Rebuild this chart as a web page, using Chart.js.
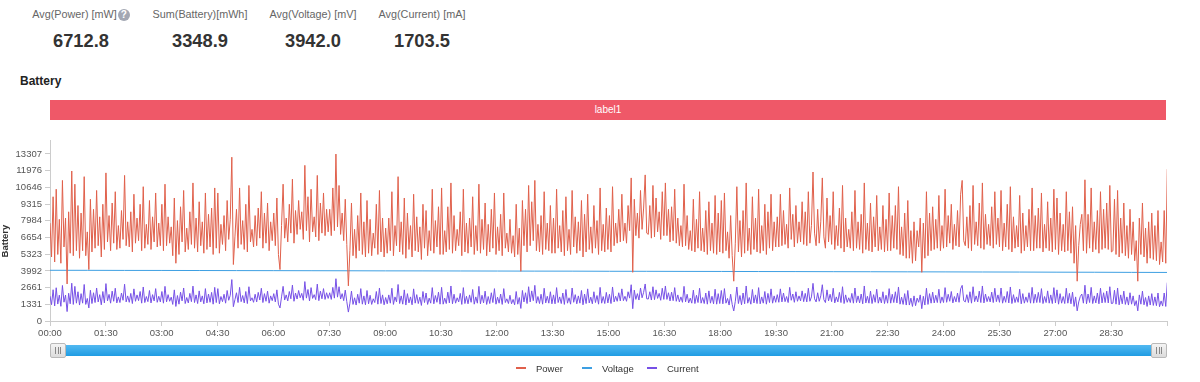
<!DOCTYPE html>
<html>
<head>
<meta charset="utf-8">
<script src="https://cdn.jsdelivr.net/npm/chart.js@4/dist/chart.umd.min.js"></script>
<style>
  html, body { margin: 0; padding: 0; background: #fff; }
  body { width: 1200px; height: 382px; position: relative; overflow: hidden; font-family: "Liberation Sans", Arial, Helvetica, sans-serif; }
  .stat { position: absolute; width: 140px; text-align: center; }
  .stat .lbl { position: absolute; top: 7px; left: 0; width: 140px; font-size: 10.8px; line-height: 14px; color: #666; white-space: nowrap; }
  .stat .val { position: absolute; top: 30px; left: 0; width: 140px; font-size: 18.3px; line-height: 22px; font-weight: bold; color: #333; }
  .q { display: inline-block; width: 12px; height: 12px; border-radius: 50%; background: #a3a7b3; color: #fff; font-size: 10px; line-height: 12px; font-weight: bold; text-align: center; vertical-align: 0px; margin-left: 1px; }
  #title { position: absolute; left: 20px; top: 74px; font-size: 12px; line-height: 14px; font-weight: bold; color: #222; }
  #band { position: absolute; left: 50px; top: 100px; width: 1116px; height: 20px; background: #ef5868; color: #fff; font-size: 10px; line-height: 20px; text-align: center; }
  #chartWrap { position: absolute; left: 0; top: 130px; width: 1200px; height: 252px; }
  #slider { position: absolute; left: 50px; top: 345px; width: 1117px; height: 11px; background: linear-gradient(#52b9f1, #1f9ce3); }
  .handle { position: absolute; top: 343px; width: 14px; height: 13px; background: linear-gradient(#f4f4f4, #dcdcdc); border: 1px solid #b9b9b9; border-radius: 2px; box-sizing: content-box; }
  .handle span { position: absolute; left: 4px; top: 3px; width: 6px; height: 7px; border-left: 1px solid #888; border-right: 1px solid #888; box-sizing: border-box; }
  .handle span::after { content: ""; position: absolute; left: 1.5px; top: 0; width: 1px; height: 7px; background: #888; }
  #legend { position: absolute; top: 362px; left: 0; width: 1200px; height: 14px; font-size: 9.5px; color: #333; }
  .li { position: absolute; top: 0; line-height: 14px; white-space: nowrap; }
  .li i { display: inline-block; width: 10px; height: 2px; vertical-align: middle; margin-right: 10px; position: relative; top: -1px; }
</style>
</head>
<body>
<div class="stat" style="left:11px"><div class="lbl">Avg(Power) [mW]<span class="q">?</span></div><div class="val">6712.8</div></div>
<div class="stat" style="left:130px"><div class="lbl">Sum(Battery)[mWh]</div><div class="val">3348.9</div></div>
<div class="stat" style="left:243px"><div class="lbl">Avg(Voltage) [mV]</div><div class="val">3942.0</div></div>
<div class="stat" style="left:352px"><div class="lbl">Avg(Current) [mA]</div><div class="val">1703.5</div></div>
<div id="title">Battery</div>
<div id="band">label1</div>
<div id="chartWrap"><canvas id="c" width="1200" height="252"></canvas></div>
<div id="slider"></div>
<div class="handle" style="left:50px"><span></span></div>
<div class="handle" style="left:1151px"><span></span></div>
<div id="legend"></div>
<script>
// ---- data ----
const seriesNames = ['Power', 'Voltage', 'Current'];
const seriesColors = ['#e0604b', '#3d9fe2', '#7650e6'];
const sampleStepSeconds = 2.5;    // Power / Current sampling interval
const voltageStepSeconds = 60;    // Voltage sampling interval
const axisMaxSeconds = 1797;
const xTickStepSeconds = 90;
const xTickLabels = ['00:00','01:30','03:00','04:30','06:00','07:30','09:00','10:30','12:00','13:30','15:00','16:30','18:00','19:30','21:00','22:30','24:00','25:30','27:00','28:30'];
const yTickLabels = ['0','1331','2661','3992','5323','6654','7984','9315','10646','11976','13307'];
const yAxisMax = 14420;

const powerValues = [
  7800, 5100, 9900, 4700, 10500, 5300, 8100, 4600, 11200, 5900, 8200, 2950, 8700, 5400, 11950, 5200, 10900, 5600, 9200, 5000, 8600, 5600, 11500, 5200, 7100, 4100, 9700, 5500, 8900, 5800, 10400, 6000, 8300, 5100, 9300, 5700,
  11800, 6300, 8400, 5600, 9400, 6200, 10300, 5700, 7600, 5800, 8800, 6500, 11600, 6000, 7900, 5900, 8700, 5500, 10100, 6200, 8200, 6400, 9300, 5600, 10700, 5800, 7700, 6100, 9600, 5700, 8300, 6300, 10200, 5900, 7800, 6000,
  9300, 5600, 10900, 6000, 8300, 6200, 7500, 5200, 9800, 4600, 8000, 5300, 9100, 6300, 10400, 5500, 7400, 5700, 8700, 6100, 11000, 5800, 8200, 5500, 9500, 6000, 7900, 5400, 10200, 5700, 8500, 5900, 9000, 5300, 10600, 5800,
  10200, 5400, 7700, 6100, 8400, 5600, 9600, 6500, 8100, 13050, 4500, 6700, 8900, 5800, 10600, 6100, 8000, 5700, 9300, 5500, 10800, 6300, 7300, 5900, 8400, 6000, 9000, 6600, 10300, 5800, 8600, 6200, 9400, 5600, 7900, 6400,
  8600, 6000, 9800, 5300, 4100, 7600, 10900, 6600, 8200, 6300, 9300, 7000, 11300, 6200, 8800, 6900, 9600, 7300, 8700, 6500, 12400, 7200, 9900, 6300, 10500, 7100, 8300, 6700, 11600, 6400, 9400, 7000, 10200, 6800, 8900, 7100,
  8900, 6800, 10600, 7200, 13300, 7500, 10800, 6900, 8600, 6400, 9700, 6100, 2800, 5600, 9400, 5200, 7300, 5000, 8400, 5600, 10200, 5300, 7900, 5100, 9600, 5400, 8100, 5200, 7000, 5800, 9300, 5300, 10400, 5500, 8200, 5100,
  7400, 5400, 8200, 5600, 10300, 5200, 7600, 6000, 11500, 5500, 7900, 5300, 9800, 5000, 8600, 5700, 7600, 5100, 10100, 5600, 8300, 5500, 7500, 4900, 9300, 5800, 8800, 5200, 7200, 5600, 10500, 5400, 8000, 5900, 9100, 5300,
  10600, 5300, 7200, 5500, 9100, 5700, 11000, 5400, 8400, 5600, 7300, 6000, 8700, 5200, 10500, 5500, 7800, 5400, 8200, 5900, 9900, 5300, 7600, 5600, 10900, 5400, 8100, 5700, 9400, 5200, 7700, 5500, 8900, 5800, 10200, 5300,
  7500, 5600, 8500, 5200, 10200, 5800, 7000, 5500, 8100, 5400, 6800, 5100, 9300, 5300, 7400, 3960, 9600, 6000, 8900, 5500, 10800, 6000, 9500, 6400, 11200, 5600, 7700, 5500, 8400, 5300, 10300, 5700, 7800, 5600, 9200, 5400,
  8200, 5400, 10500, 5800, 7600, 5500, 8800, 5200, 9900, 5600, 7300, 5300, 10400, 5900, 8300, 5400, 7900, 5600, 9600, 5100, 8500, 5500, 10100, 5700, 7500, 5400, 9200, 5800, 8000, 5300, 10600, 5600, 7700, 5500, 9000, 5700,
  8400, 5500, 10700, 6000, 7800, 6200, 8900, 6300, 10100, 6400, 7800, 6200, 9200, 7200, 11400, 3880, 9700, 6800, 8600, 6600, 10400, 7300, 9000, 11640, 7000, 6900, 9200, 6600, 10800, 6700, 9800, 7100, 8700, 6500, 10300, 6800,
  11000, 6800, 8900, 6300, 9100, 6400, 10500, 6200, 8200, 6000, 7600, 5900, 10900, 6000, 8400, 5700, 7200, 5600, 9700, 5500, 8100, 5800, 10300, 5600, 7400, 5500, 8800, 5300, 9500, 5600, 7800, 5400, 10000, 5300, 8600, 5500,
  9600, 5400, 10200, 5600, 7100, 5000, 8400, 5200, 3170, 6200, 10700, 5500, 8000, 5100, 8800, 5400, 11000, 5600, 7400, 5300, 9900, 5700, 8200, 5500, 10500, 5400, 7600, 5600, 9300, 5300, 8700, 5800, 10100, 5600, 7900, 5900,
  8300, 5900, 10100, 6000, 8800, 6100, 7700, 5800, 10600, 6500, 8500, 5900, 9200, 6200, 7900, 6300, 9500, 6100, 8700, 6000, 10300, 6200, 7600, 11870, 7000, 6000, 8900, 6200, 7900, 11400, 6700, 5800, 9800, 6300, 8400, 6100,
  10300, 5700, 7600, 6000, 9000, 5800, 10800, 5500, 8200, 5900, 7300, 5800, 8700, 5600, 10400, 5800, 7900, 5700, 8500, 5400, 11000, 5700, 7800, 5600, 9400, 5500, 8300, 5900, 10000, 5600, 7500, 5700, 9200, 5500, 8100, 5600,
  10200, 5600, 8400, 5800, 9200, 5700, 10700, 5300, 7500, 5200, 8600, 5000, 9600, 5000, 7200, 4600, 7900, 4800, 7200, 5900, 8200, 3880, 7800, 5000, 10300, 5200, 8600, 5600, 9100, 5700, 8100, 5800, 10000, 5600, 7600, 5800,
  10500, 5900, 8400, 6200, 9300, 5700, 7700, 6000, 8800, 5900, 10100, 11200, 6400, 6000, 8300, 5800, 9200, 5600, 10800, 6100, 7900, 6000, 9400, 5800, 11000, 5700, 8500, 6100, 7700, 6000, 9100, 5800, 10300, 6100, 8200, 5900,
  10400, 5600, 7800, 5900, 9300, 5700, 10700, 5500, 8300, 5800, 7600, 5900, 10000, 5400, 8600, 5600, 7600, 5900, 8900, 5600, 10600, 5600, 8400, 5800, 9000, 5800, 10200, 5500, 7700, 5800, 9500, 5600, 8200, 5500, 10500, 5700,
  9800, 5300, 8600, 5600, 7700, 5500, 10300, 5600, 8700, 5400, 9100, 4600, 7600, 3170, 6000, 7700, 8500, 5600, 11250, 5400, 8500, 5800, 10600, 5500, 7900, 5700, 8800, 5400, 10300, 5700, 8900, 5800, 9400, 5700, 10800, 5500,
  5600, 9700, 5300, 10400, 5100, 8200, 5400, 9400, 5200, 7600, 5000, 8900, 5300, 7900, 4800, 6400, 3170, 8200, 5300, 9400, 5100, 7400, 4600, 7900, 5000, 8600, 4900, 7600, 4800, 8800, 4500, 6300, 4700, 8800, 4600, 12100
];

const currentValues = [
  1980, 1300, 2490, 1200, 2650, 1350, 2060, 1170, 2830, 1500, 2070, 750, 2210, 1370, 3010, 1320, 2760, 1420, 2330, 1270, 2180, 1420, 2910, 1320, 1800, 1040, 2450, 1390, 2250, 1470, 2630, 1520, 2100, 1290, 2350, 1440,
  2980, 1600, 2120, 1420, 2380, 1570, 2610, 1440, 1920, 1470, 2230, 1650, 2930, 1520, 2000, 1490, 2200, 1390, 2560, 1570, 2080, 1620, 2350, 1420, 2710, 1470, 1950, 1540, 2430, 1440, 2100, 1600, 2580, 1490, 1970, 1520,
  2350, 1420, 2760, 1520, 2100, 1570, 1900, 1320, 2480, 1160, 2030, 1340, 2300, 1600, 2630, 1390, 1870, 1440, 2200, 1540, 2780, 1470, 2080, 1390, 2400, 1520, 2000, 1370, 2580, 1440, 2150, 1490, 2280, 1340, 2680, 1470,
  2580, 1370, 1950, 1540, 2130, 1420, 2430, 1650, 2050, 3300, 1140, 1700, 2250, 1470, 2680, 1540, 2030, 1440, 2350, 1390, 2730, 1600, 1850, 1490, 2130, 1520, 2280, 1670, 2610, 1470, 2180, 1570, 2380, 1420, 2000, 1620,
  2180, 1520, 2480, 1340, 1040, 1920, 2760, 1670, 2080, 1600, 2350, 1770, 2860, 1570, 2230, 1750, 2430, 1850, 2200, 1650, 3140, 1820, 2510, 1600, 2660, 1800, 2100, 1700, 2940, 1620, 2380, 1770, 2580, 1720, 2250, 1800,
  2250, 1720, 2680, 1820, 3370, 1900, 2730, 1750, 2180, 1620, 2460, 1540, 710, 1420, 2380, 1320, 1850, 1270, 2130, 1420, 2580, 1340, 2000, 1290, 2430, 1370, 2050, 1320, 1770, 1470, 2350, 1340, 2630, 1390, 2080, 1290,
  1870, 1370, 2080, 1420, 2610, 1320, 1920, 1520, 2910, 1390, 2000, 1340, 2480, 1270, 2180, 1440, 1920, 1290, 2560, 1420, 2100, 1390, 1900, 1240, 2350, 1470, 2230, 1320, 1820, 1420, 2660, 1370, 2030, 1490, 2300, 1340,
  2680, 1340, 1820, 1390, 2300, 1440, 2790, 1370, 2130, 1420, 1850, 1520, 2200, 1320, 2660, 1390, 1970, 1370, 2080, 1490, 2510, 1340, 1920, 1420, 2760, 1370, 2050, 1440, 2380, 1320, 1950, 1390, 2250, 1470, 2580, 1340,
  1900, 1420, 2150, 1320, 2580, 1470, 1770, 1390, 2050, 1370, 1720, 1290, 2350, 1340, 1870, 1000, 2430, 1520, 2250, 1390, 2730, 1520, 2400, 1620, 2840, 1420, 1950, 1390, 2130, 1340, 2610, 1440, 1970, 1420, 2330, 1370,
  2080, 1370, 2660, 1470, 1920, 1390, 2230, 1320, 2510, 1420, 1850, 1340, 2630, 1490, 2100, 1370, 2000, 1420, 2430, 1290, 2150, 1390, 2560, 1440, 1900, 1370, 2330, 1470, 2030, 1340, 2680, 1420, 1950, 1390, 2280, 1440,
  2130, 1390, 2710, 1520, 1970, 1570, 2250, 1600, 2560, 1620, 1970, 1570, 2330, 1820, 2890, 980, 2460, 1720, 2180, 1670, 2630, 1850, 2280, 2950, 1770, 1750, 2330, 1670, 2730, 1700, 2480, 1800, 2200, 1650, 2610, 1720,
  2790, 1720, 2250, 1600, 2300, 1620, 2660, 1570, 2080, 1520, 1920, 1490, 2760, 1520, 2130, 1440, 1820, 1420, 2460, 1390, 2050, 1470, 2610, 1420, 1870, 1390, 2230, 1340, 2400, 1420, 1970, 1370, 2530, 1340, 2180, 1390,
  2430, 1370, 2580, 1420, 1800, 1270, 2130, 1320, 800, 1570, 2710, 1390, 2030, 1290, 2230, 1370, 2790, 1420, 1870, 1340, 2510, 1440, 2080, 1390, 2660, 1370, 1920, 1420, 2350, 1340, 2200, 1470, 2560, 1420, 2000, 1490,
  2100, 1490, 2560, 1520, 2230, 1540, 1950, 1470, 2680, 1650, 2150, 1490, 2330, 1570, 2000, 1600, 2400, 1540, 2200, 1520, 2610, 1570, 1920, 3000, 1770, 1520, 2250, 1570, 2000, 2890, 1700, 1470, 2480, 1600, 2130, 1540,
  2610, 1440, 1920, 1520, 2280, 1470, 2730, 1390, 2080, 1490, 1850, 1470, 2200, 1420, 2630, 1470, 2000, 1440, 2150, 1370, 2790, 1440, 1970, 1420, 2380, 1390, 2100, 1490, 2530, 1420, 1900, 1440, 2330, 1390, 2050, 1420,
  2580, 1420, 2130, 1470, 2330, 1440, 2710, 1340, 1900, 1320, 2180, 1270, 2430, 1270, 1820, 1160, 2000, 1220, 1820, 1490, 2080, 980, 1970, 1270, 2610, 1320, 2180, 1420, 2300, 1440, 2050, 1470, 2530, 1420, 1920, 1470,
  2660, 1490, 2130, 1570, 2350, 1440, 1950, 1520, 2230, 1490, 2560, 2840, 1620, 1520, 2100, 1470, 2330, 1420, 2730, 1540, 2000, 1520, 2380, 1470, 2790, 1440, 2150, 1540, 1950, 1520, 2300, 1470, 2610, 1540, 2080, 1490,
  2630, 1420, 1970, 1490, 2350, 1440, 2710, 1390, 2100, 1470, 1920, 1490, 2530, 1370, 2180, 1420, 1920, 1490, 2250, 1420, 2680, 1420, 2130, 1470, 2280, 1470, 2580, 1390, 1950, 1470, 2400, 1420, 2080, 1390, 2660, 1440,
  2480, 1340, 2180, 1420, 1950, 1390, 2610, 1420, 2200, 1370, 2300, 1160, 1920, 810, 1520, 1950, 2150, 1420, 2850, 1370, 2150, 1470, 2680, 1390, 2000, 1440, 2230, 1370, 2610, 1440, 2250, 1470, 2380, 1440, 2730, 1390,
  1420, 2450, 1340, 2630, 1290, 2080, 1370, 2380, 1320, 1920, 1270, 2250, 1340, 2000, 1220, 1620, 810, 2080, 1340, 2380, 1290, 1870, 1160, 2000, 1270, 2180, 1240, 1920, 1220, 2230, 1140, 1600, 1190, 2230, 1160, 3060
];

const voltageValues = [
  4040, 4037, 4030, 4028, 4021, 4015, 4011, 4006, 4002, 3994, 3991, 3985, 3980, 3974, 3971, 3962,
  3959, 3952, 3948, 3940, 3937, 3929, 3924, 3917, 3912, 3904, 3899, 3890, 3885, 3875, 3868
];

// ---- build datasets ----
const toPoints = (vals, step) => vals.map((v, i) => ({ x: i * step, y: v }));
const seriesData = [
  toPoints(powerValues, sampleStepSeconds),
  toPoints(voltageValues, voltageStepSeconds),
  toPoints(currentValues, sampleStepSeconds)
];

const FONT = '"Liberation Sans", Arial, Helvetica, sans-serif';
const axisGrey = '#cccccc';

new Chart(document.getElementById('c'), {
  type: 'line',
  data: {
    datasets: seriesNames.map((name, i) => ({
      label: name,
      data: seriesData[i],
      borderColor: seriesColors[i],
      backgroundColor: seriesColors[i],
      borderWidth: 1,
      pointRadius: 0,
      pointHoverRadius: 0,
      tension: 0,
      fill: false,
      borderJoinStyle: 'round'
    }))
  },
  options: {
    responsive: false,
    animation: false,
    events: [],
    layout: { padding: { left: 0, right: 33, top: 10, bottom: 0 } },
    plugins: { legend: { display: false }, tooltip: { enabled: false } },
    scales: {
      x: {
        type: 'linear',
        min: 0,
        max: axisMaxSeconds,
        afterFit: s => { s.height = 61; },
        border: { display: true, color: axisGrey, width: 1 },
        grid: { display: true, drawOnChartArea: false, drawTicks: true, tickLength: 5, color: axisGrey },
        ticks: {
          stepSize: xTickStepSeconds,
          includeBounds: false,
          autoSkip: false,
          maxRotation: 0,
          padding: 2,
          color: '#555',
          font: { family: FONT, size: 9.5 },
          callback: v => xTickLabels[Math.round(v / xTickStepSeconds)] ?? ''
        }
      },
      y: {
        type: 'linear',
        min: 0,
        max: yAxisMax,
        afterFit: s => { s.width = 50; },
        afterBuildTicks: axis => { axis.ticks = yTickLabels.map(l => ({ value: Number(l) })); },
        border: { display: true, color: axisGrey, width: 1 },
        grid: { display: true, drawOnChartArea: false, drawTicks: true, tickLength: 5, color: axisGrey },
        title: {
          display: true,
          text: 'Battery        ',
          color: '#333',
          padding: 0,
          font: { family: FONT, size: 9.5, weight: 'bold' }
        },
        ticks: {
          padding: 3,
          color: '#555',
          font: { family: FONT, size: 9.5 },
          callback: (v, i) => yTickLabels[i]
        }
      }
    }
  }
});

// ---- legend (html) ----
const legendLeft = [516, 582, 647];
const legend = document.getElementById('legend');
seriesNames.forEach((name, i) => {
  const d = document.createElement('div');
  d.className = 'li';
  d.style.left = legendLeft[i] + 'px';
  d.innerHTML = '<i style="background:' + seriesColors[i] + '"></i>' + name;
  legend.appendChild(d);
});
</script>
</body>
</html>
